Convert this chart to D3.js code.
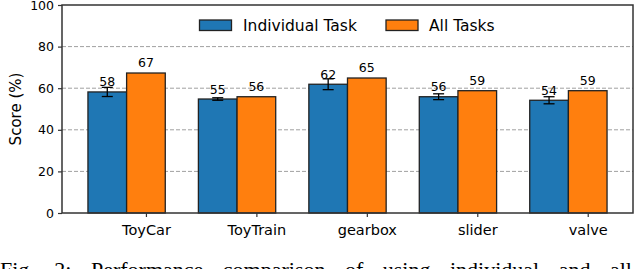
<!DOCTYPE html>
<html>
<head>
<meta charset="utf-8">
<script src="https://cdn.jsdelivr.net/npm/d3@7"></script>
<style>
  html, body { margin: 0; padding: 0; background: #fff; overflow: hidden; }
  svg { display: block; }
</style>
</head>
<body>
<svg id="chart" width="640" height="269"></svg>
<script>
const categories = ["ToyCar", "ToyTrain", "gearbox", "slider", "valve"];
const individual = [58.2, 54.8, 61.9, 55.9, 54.2];
const individualErr = [2.2, 0.6, 2.6, 1.4, 1.7];
const allTasks = [67.3, 55.9, 64.9, 58.8, 58.8];
const seriesNames = ["Individual Task", "All Tasks"];
const yTicks = [0, 20, 40, 60, 80, 100];
const caption = "Fig. 2: Performance comparison of using individual and all";

(function () {
const svg = d3.select("#chart");
const pL = 62, pR = 633, pT = 5, pB = 213;
const barW = 0.35;

const x = d3.scaleLinear().domain([-0.76, 4.41]).range([pL, pR]);
const y = d3.scaleLinear().domain([0, 100]).range([pB, pT]);

const font = "DejaVu Sans, sans-serif";

// gridlines
svg.append("g").selectAll("line").data(yTicks.filter(d => d > 0 && d < 100)).join("line")
  .attr("x1", pL).attr("x2", pR)
  .attr("y1", d => y(d)).attr("y2", d => y(d))
  .attr("stroke", "#a0a0a0").attr("stroke-width", 1).attr("stroke-dasharray", "4,2");

const data = categories.map((c, i) => ({ c, i, a: individual[i], e: individualErr[i], b: allTasks[i] }));

// blue bars
svg.append("g").selectAll("rect").data(data).join("rect")
  .attr("x", d => x(d.i - 1.5 * barW))
  .attr("width", d => x(d.i - 0.5 * barW) - x(d.i - 1.5 * barW))
  .attr("y", d => y(d.a))
  .attr("height", d => y(0) - y(d.a))
  .attr("fill", "#1f77b4").attr("stroke", "#222").attr("stroke-width", 1.3);

// orange bars
svg.append("g").selectAll("rect").data(data).join("rect")
  .attr("x", d => x(d.i - 0.5 * barW))
  .attr("width", d => x(d.i + 0.5 * barW) - x(d.i - 0.5 * barW))
  .attr("y", d => y(d.b))
  .attr("height", d => y(0) - y(d.b))
  .attr("fill", "#ff7f0e").attr("stroke", "#222").attr("stroke-width", 1.3);

// error bars
const eg = svg.append("g").attr("stroke", "#000").attr("stroke-width", 1.3);
data.forEach(d => {
  const cx = x(d.i - barW);
  eg.append("line").attr("x1", cx).attr("x2", cx).attr("y1", y(d.a + d.e)).attr("y2", y(d.a - d.e));
  [d.a + d.e, d.a - d.e].forEach(v => {
    eg.append("line").attr("x1", cx - 5.5).attr("x2", cx + 5.5).attr("y1", y(v)).attr("y2", y(v));
  });
});

// value labels
svg.append("g").selectAll("text").data(data).join("text")
  .attr("x", d => x(d.i - barW)).attr("y", d => y(d.a) - 5.5)
  .attr("text-anchor", "middle").attr("font-family", font).attr("font-size", 12.5).attr("fill", "#000")
  .text(d => Math.round(d.a));
svg.append("g").selectAll("text").data(data).join("text")
  .attr("x", d => x(d.i)).attr("y", d => y(d.b) - 6)
  .attr("text-anchor", "middle").attr("font-family", font).attr("font-size", 12.5).attr("fill", "#000")
  .text(d => Math.round(d.b));

// axes
const xAxis = d3.axisBottom(x).tickValues(d3.range(categories.length))
  .tickFormat(i => categories[i]).tickSize(4).tickPadding(6);
const gx = svg.append("g").attr("transform", `translate(0,${pB})`).call(xAxis);
gx.select(".domain").remove();
gx.selectAll(".tick line").attr("stroke", "#333").attr("stroke-width", 1.2);
gx.selectAll(".tick text").attr("font-family", font).attr("font-size", 14.5).attr("fill", "#000")
  .attr("dy", "0.8em");

const yAxis = d3.axisLeft(y).tickValues(yTicks).tickSize(4).tickPadding(4);
const gy = svg.append("g").attr("transform", `translate(${pL},0)`).call(yAxis);
gy.select(".domain").remove();
gy.selectAll(".tick line").attr("stroke", "#333").attr("stroke-width", 1.2);
gy.selectAll(".tick text").attr("font-family", font).attr("font-size", 12.5).attr("fill", "#000");

// frame
svg.append("rect").attr("x", pL).attr("y", pT).attr("width", pR - pL).attr("height", pB - pT)
  .attr("fill", "none").attr("stroke", "#333").attr("stroke-width", 1.5);

// y label
svg.append("text").attr("transform", `translate(21,${(pT + pB) / 2}) rotate(-90)`)
  .attr("text-anchor", "middle").attr("font-family", font).attr("font-size", 15).attr("fill", "#000")
  .text("Score (%)");

// legend
const legendItems = [
  { name: seriesNames[0], color: "#1f77b4", px: 199.5, tx: 243 },
  { name: seriesNames[1], color: "#ff7f0e", px: 386, tx: 429 }
];
const lg = svg.append("g");
legendItems.forEach(it => {
  lg.append("rect").attr("x", it.px).attr("y", 20).attr("width", 32).attr("height", 10.5)
    .attr("fill", it.color).attr("stroke", "#222").attr("stroke-width", 1.3);
  lg.append("text").attr("x", it.tx).attr("y", 30.5).attr("font-family", font).attr("font-size", 15.5)
    .attr("fill", "#000").text(it.name);
});

// caption (partially cut off, as in the reference)
svg.append("text").attr("x", 0).attr("y", 276.5).attr("font-family", "'Liberation Serif', serif")
  .attr("font-size", 22).attr("fill", "#000").style("word-spacing", "14px")
  .text(caption);
})();
</script>
</body>
</html>
